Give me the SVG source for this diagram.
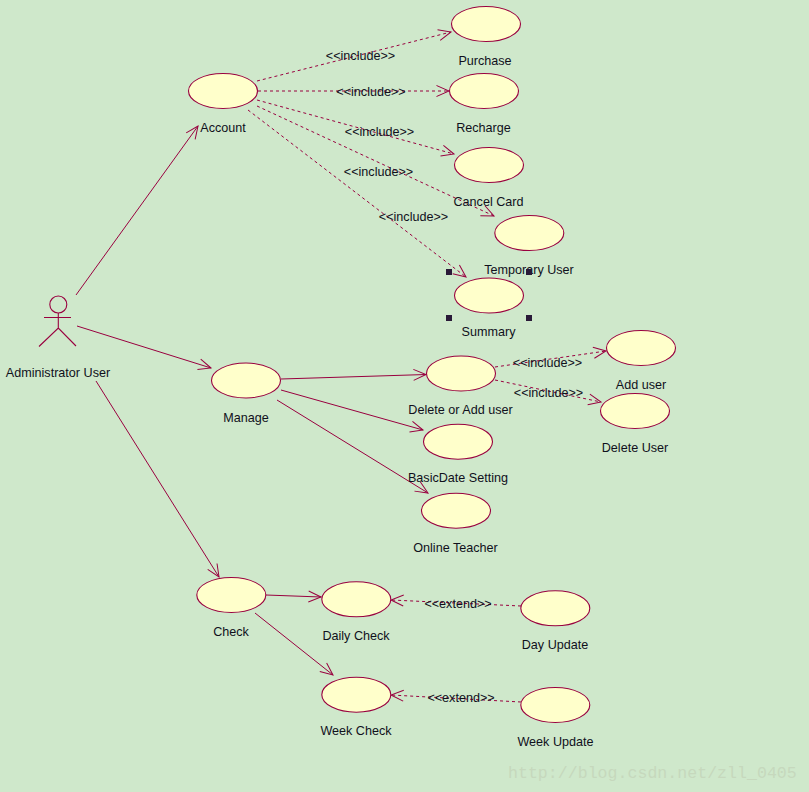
<svg xmlns="http://www.w3.org/2000/svg" width="809" height="792" viewBox="0 0 809 792">
<style>
text{font-family:"Liberation Sans",Arial,sans-serif;font-size:12.6px;fill:#10101c;text-anchor:middle}
.n ellipse{fill:#ffffcb;stroke:#99003f;stroke-width:1.1}
.c line{stroke:#99003f;stroke-width:1;fill:none}
.c .d{stroke-dasharray:3 3}
.actor{stroke:#99003f;stroke-width:1.1;fill:none}
.h{fill:#2a1a38}
text.w{font-family:"Liberation Mono",monospace;font-size:16.6px;fill:#c6d8bd;text-anchor:start}
</style>
<defs>
<marker id="o" viewBox="-14 -7 16 14" markerWidth="16" markerHeight="14" refX="0" refY="0" orient="auto" markerUnits="userSpaceOnUse"><path d="M-12.500 -5.500L0 0L-12.500 5.500" fill="none" stroke="#99003f" stroke-width="1"/></marker>
</defs>
<rect width="809" height="792" fill="#cfe8cb"/>
<g id="connectors" class="c">
<line x1="76" y1="295" x2="198" y2="126" marker-end="url(#o)"/>
<line x1="77" y1="326" x2="211" y2="368" marker-end="url(#o)"/>
<line x1="96" y1="381" x2="219" y2="577" marker-end="url(#o)"/>
<line class="d" x1="257" y1="81" x2="451" y2="32" marker-end="url(#o)"/>
<line class="d" x1="258" y1="91" x2="449" y2="91" marker-end="url(#o)"/>
<line class="d" x1="257" y1="100" x2="454" y2="154" marker-end="url(#o)"/>
<line class="d" x1="257" y1="106" x2="494" y2="216" marker-end="url(#o)"/>
<line class="d" x1="248" y1="110" x2="466" y2="277" marker-end="url(#o)"/>
<line x1="281" y1="379" x2="426" y2="374.500" marker-end="url(#o)"/>
<line x1="281" y1="390" x2="423" y2="430" marker-end="url(#o)"/>
<line x1="277" y1="400" x2="428" y2="493" marker-end="url(#o)"/>
<line class="d" x1="495" y1="367" x2="606" y2="351" marker-end="url(#o)"/>
<line class="d" x1="495" y1="380" x2="601" y2="402" marker-end="url(#o)"/>
<line x1="266" y1="595" x2="321" y2="597" marker-end="url(#o)"/>
<line x1="255" y1="613" x2="333" y2="675" marker-end="url(#o)"/>
<line class="d" x1="521" y1="606" x2="391" y2="600" marker-end="url(#o)"/>
<line class="d" x1="521" y1="702" x2="391" y2="695" marker-end="url(#o)"/>
</g>
<g id="administrator-user">
<circle class="actor" cx="58.300" cy="304.500" r="8.500"/>
<path class="actor" d="M44 317.500H71M58.300 313V328M39 346.500L58.300 328L76 346"/>
<text x="58" y="376.500">Administrator User</text>
</g>
<g id="account" class="n"><ellipse cx="223" cy="91" rx="34.500" ry="17.500"/><text x="223" y="131.500">Account</text></g>
<g id="purchase" class="n"><ellipse cx="486" cy="24" rx="34.500" ry="17.500"/><text x="485" y="64.500">Purchase</text></g>
<g id="recharge" class="n"><ellipse cx="484" cy="91" rx="34.500" ry="17.500"/><text x="483.500" y="131.500">Recharge</text></g>
<g id="cancel-card" class="n"><ellipse cx="489" cy="165" rx="34.500" ry="17.500"/><text x="488.500" y="205.500">Cancel Card</text></g>
<g id="temporary-user" class="n"><ellipse cx="529.300" cy="233" rx="34.500" ry="17.500"/><text x="529" y="273.500">Temporary User</text></g>
<g id="summary" class="n"><ellipse cx="489" cy="295.500" rx="34.500" ry="17.500"/><text x="488.500" y="335.500">Summary</text>
<rect class="h" x="446" y="269" width="6" height="6"/><rect class="h" x="526" y="269" width="6" height="6"/><rect class="h" x="446" y="315" width="6" height="6"/><rect class="h" x="526" y="315" width="6" height="6"/></g>
<g id="manage" class="n"><ellipse cx="246" cy="380.500" rx="34.500" ry="17.500"/><text x="246" y="421.500">Manage</text></g>
<g id="delete-or-add-user" class="n"><ellipse cx="461" cy="373.500" rx="34.500" ry="17.500"/><text x="460.500" y="413.500">Delete or Add user</text></g>
<g id="add-user" class="n"><ellipse cx="641" cy="348" rx="34.500" ry="17.500"/><text x="641" y="388.500">Add user</text></g>
<g id="delete-user" class="n"><ellipse cx="635" cy="411" rx="34.500" ry="17.500"/><text x="635" y="451.500">Delete User</text></g>
<g id="basicdate-setting" class="n"><ellipse cx="458" cy="441.700" rx="34.500" ry="17.500"/><text x="458" y="481.500">BasicDate Setting</text></g>
<g id="online-teacher" class="n"><ellipse cx="456" cy="510.700" rx="34.500" ry="17.500"/><text x="455.500" y="551.500">Online Teacher</text></g>
<g id="check" class="n"><ellipse cx="231.300" cy="595" rx="34.500" ry="17.500"/><text x="231" y="635.500">Check</text></g>
<g id="daily-check" class="n"><ellipse cx="356.300" cy="599.300" rx="34.500" ry="17.500"/><text x="356" y="639.500">Daily Check</text></g>
<g id="week-check" class="n"><ellipse cx="356.300" cy="694.700" rx="34.500" ry="17.500"/><text x="356" y="734.500">Week Check</text></g>
<g id="day-update" class="n"><ellipse cx="555.300" cy="608.300" rx="34.500" ry="17.500"/><text x="555" y="648.500">Day Update</text></g>
<g id="week-update" class="n"><ellipse cx="555.300" cy="705" rx="34.500" ry="17.500"/><text x="555.500" y="745.500">Week Update</text></g>
<g id="connector-labels">
<text x="360.500" y="59.500">&lt;&lt;include&gt;&gt;</text>
<text x="371" y="95.500">&lt;&lt;include&gt;&gt;</text>
<text x="379.500" y="135.500">&lt;&lt;include&gt;&gt;</text>
<text x="378.500" y="175.500">&lt;&lt;include&gt;&gt;</text>
<text x="413.500" y="220.500">&lt;&lt;include&gt;&gt;</text>
<text x="547.500" y="366.500">&lt;&lt;include&gt;&gt;</text>
<text x="548.500" y="396.500">&lt;&lt;include&gt;&gt;</text>
<text x="458" y="607.500">&lt;&lt;extend&gt;&gt;</text>
<text x="461" y="701.500">&lt;&lt;extend&gt;&gt;</text>
</g>
<text class="w" x="508" y="778">http://blog.csdn.net/zll_0405</text>
</svg>
